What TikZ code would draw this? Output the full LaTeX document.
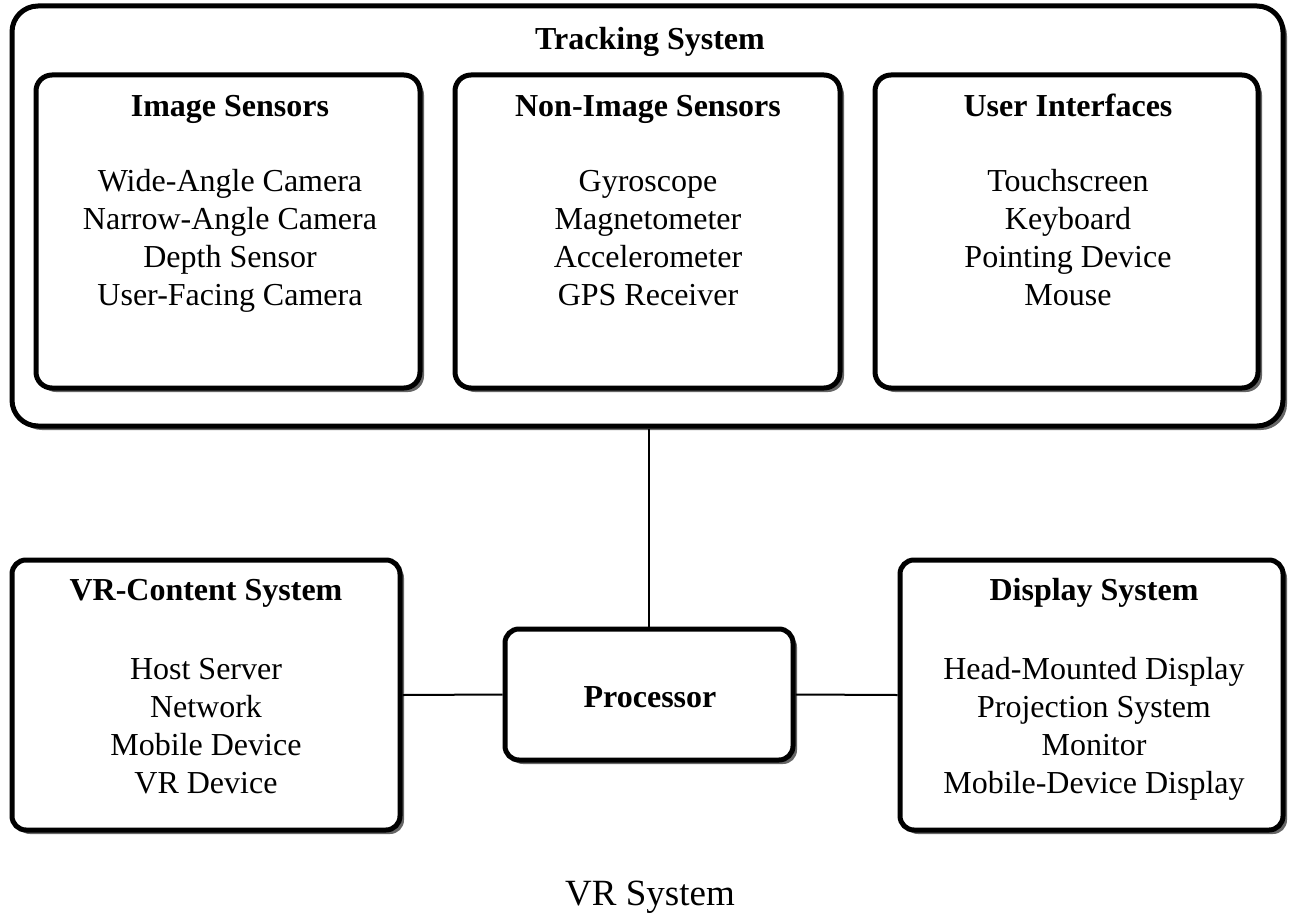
\documentclass[tikz,border=0pt]{standalone}
\usepackage{fontspec}
\setmainfont{Liberation Serif}
\usetikzlibrary{shadows}
\begin{document}
\begin{tikzpicture}[x=1pt,y=-1pt,
  shadowed/.style={drop shadow={shadow xshift=4pt,shadow yshift=-4pt,fill=black!60,opacity=1}},
  panel/.style={draw,line width=5pt,fill=white,rounded corners=#1,inner sep=0pt,shadowed},
  title/.style={font=\fontsize{32}{37.7}\selectfont\bfseries,anchor=base,inner sep=0pt},
  % multi-line lists: the base anchor sits on the last line
  items/.style={font=\fontsize{32}{37.7}\selectfont,align=center,anchor=base,inner sep=0pt},
  link/.style={line width=2pt}]
\useasboundingbox (0,0) rectangle (1297,915);

% tracking system and its three groups
\node[panel=26pt,minimum width=1271pt,minimum height=420pt] (track) at (647.5,216) {};
\node[title] (trackT) at (650,50) {Tracking System};

\node[panel=16pt,minimum width=384pt,minimum height=313pt] (img) at (228,231.5) {};
\node[title] (imgT) at (230,117) {Image Sensors};
\node[items] (imgL) at (230,305) {Wide-Angle Camera\\Narrow-Angle Camera\\Depth Sensor\\User-Facing Camera};

\node[panel=16pt,minimum width=385pt,minimum height=313pt] (nimg) at (647.5,231.5) {};
\node[title] (nimgT) at (648,117) {Non-Image Sensors};
\node[items] (nimgL) at (648,305) {Gyroscope\\Magnetometer\\Accelerometer\\GPS Receiver};

\node[panel=16pt,minimum width=383pt,minimum height=313pt] (ui) at (1066.5,231.5) {};
\node[title] (uiT) at (1068,117) {User Interfaces};
\node[items] (uiL) at (1068,305) {Touchscreen\\Keyboard\\Pointing Device\\Mouse};

% lower row
\node[panel=14pt,minimum width=388pt,minimum height=270pt] (vrc) at (206,695) {};
\node[title] (vrcT) at (206,600) {VR-Content System};
\node[items] (vrcL) at (206,793) {Host Server\\Network\\Mobile Device\\VR Device};

\node[panel=14pt,minimum width=288pt,minimum height=131pt] (proc) at (649,694.5) {};
\node[title] (procT) at (650,707) {Processor};

\node[panel=14pt,minimum width=383pt,minimum height=270pt] (disp) at (1091.5,695) {};
\node[title] (dispT) at (1094,600) {Display System};
\node[items] (dispL) at (1094,793) {Head-Mounted Display\\Projection System\\Monitor\\Mobile-Device Display};

% connectors
\draw[link] (proc.north) -- (proc.north |- track.south);
\draw[link] (vrc.east) -- (proc.west);
\draw[link] (proc.east) -- (disp.west);

% caption
\node[font=\fontsize{37}{42}\selectfont,anchor=base,inner sep=0pt] (cap) at (650,905) {VR System};
\end{tikzpicture}
\end{document}
